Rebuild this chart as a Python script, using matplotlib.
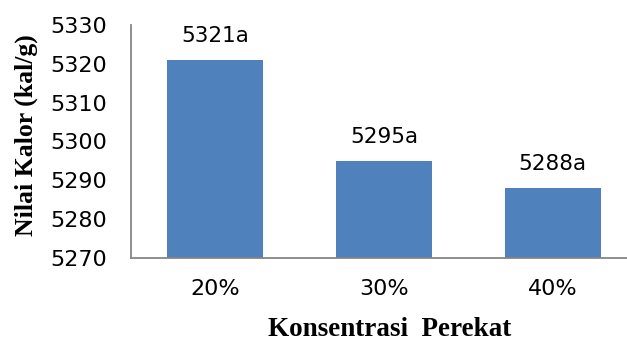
import matplotlib
matplotlib.use("Agg")
import matplotlib.pyplot as plt

# Heating value of briquettes by binder concentration
categories = ["20%", "30%", "40%"]
values = [5321, 5295, 5288]
letters = ["a", "a", "a"]
y_ticks = [5270, 5280, 5290, 5300, 5310, 5320, 5330]

W, H = 627, 343
fig = plt.figure(figsize=(W / 100, H / 100), dpi=100)
ax = fig.add_axes([131 / W, 1 - 258 / H, (627 - 131) / W, (258 - 25) / H])

bar_color = "#4F81BD"
spine_color = "#868686"
sans = "DejaVu Sans"
serif = "Liberation Serif"

x = list(range(len(categories)))
ax.bar(x, values, width=0.57, color=bar_color, zorder=2)

for xi, v, l in zip(x, values, letters):
    ax.annotate(f"{v}{l}", (xi, v), xytext=(0, 10), textcoords="offset points",
                ha="center", va="bottom", fontsize=15.5, family=sans, color="#000000")

ax.set_ylim(5270, 5330)
ax.set_yticks(y_ticks)
ax.set_xlim(-0.5, 2.44)
ax.set_xticks(x)
ax.set_xticklabels(categories)

for lab in ax.get_yticklabels() + ax.get_xticklabels():
    lab.set_family(sans)
    lab.set_fontsize(16)
ax.tick_params(axis="y", length=0, pad=17)
ax.tick_params(axis="x", length=0, pad=15)

for side in ["top", "right"]:
    ax.spines[side].set_visible(False)
for side in ["left", "bottom"]:
    ax.spines[side].set_color(spine_color)
    ax.spines[side].set_linewidth(1.3)

fig.text(26 / W, 1 - 135 / H, "Nilai Kalor (kal/g)", rotation=90, ha="center", va="center",
         fontsize=18.5, fontweight="bold", family=serif)
fig.text(390 / W, 1 - 330 / H, "Konsentrasi  Perekat", ha="center", va="center",
         fontsize=19.5, fontweight="bold", family=serif)

fig.savefig("out.png", dpi=100)
